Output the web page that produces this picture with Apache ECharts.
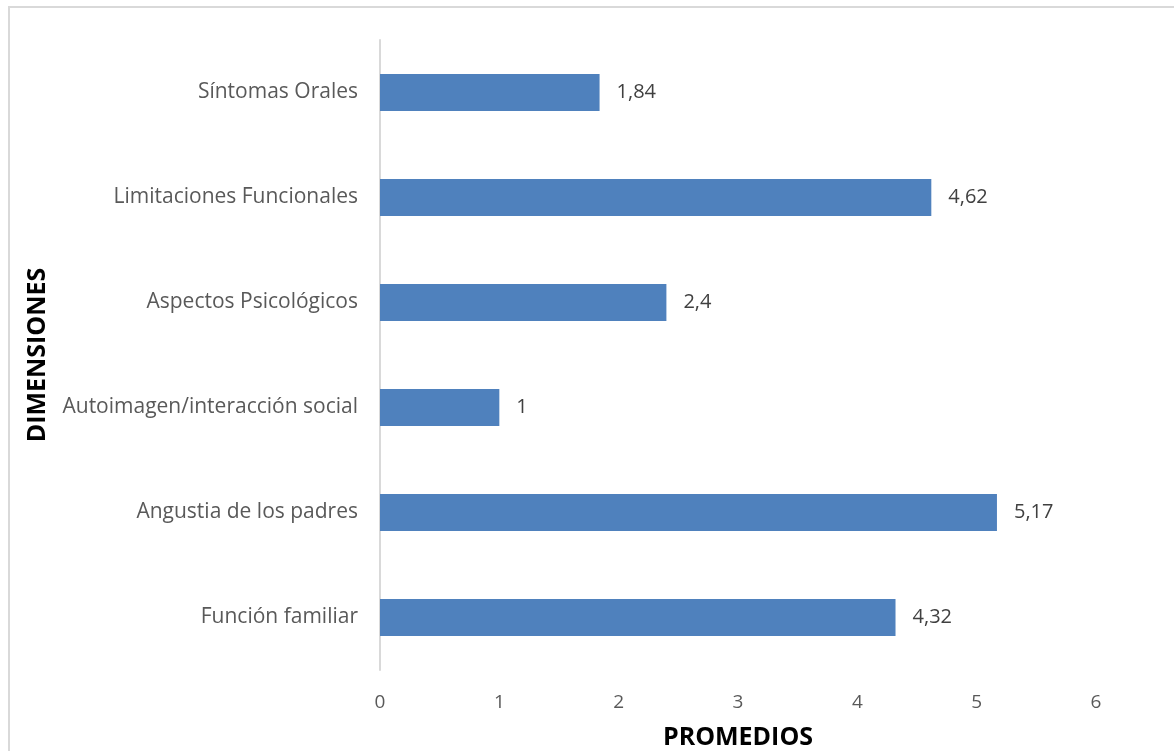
<!DOCTYPE html>
<html>
<head>
<meta charset="utf-8">
<script src="https://cdn.jsdelivr.net/npm/echarts@6/dist/echarts.min.js"></script>
<style>
  html, body { margin: 0; padding: 0; background: #ffffff; }
  #chart { width: 1174px; height: 751px; }
</style>
</head>
<body>
<div id="chart"></div>
<script>
// Dimensions of the questionnaire, listed top to bottom
const dimensiones = [
  'Síntomas Orales',
  'Limitaciones Funcionales',
  'Aspectos Psicológicos',
  'Autoimagen/interacción social',
  'Angustia de los padres',
  'Función familiar'
];
// Mean score per dimension
const promedios = [1.84, 4.62, 2.4, 1, 5.17, 4.32];
// Value axis ticks
const ejeMin = 0;
const ejeMax = 6;
const ejePaso = 1;

const FONT = 'Open Sans';
const chart = echarts.init(document.getElementById('chart'), null, { renderer: 'canvas' });

chart.setOption({
  animation: false,
  backgroundColor: '#ffffff',
  textStyle: { fontFamily: FONT },
  graphic: [{
    type: 'rect',
    shape: { x: 9, y: 7, width: 1300, height: 900 },
    style: { fill: 'none', stroke: '#d9d9d9', lineWidth: 2 },
    silent: true,
    z: -10
  }],
  grid: { left: 380, right: 78, top: 40, bottom: 81, containLabel: false, outerBoundsMode: 'none' },
  xAxis: {
    type: 'value',
    min: ejeMin,
    max: ejeMax,
    interval: ejePaso,
    axisLine: { show: false },
    axisTick: { show: false },
    splitLine: { show: false },
    axisLabel: { color: '#595959', fontSize: 19, margin: 23, fontFamily: FONT,
      formatter: v => String(v) },
    name: 'PROMEDIOS',
    nameLocation: 'middle',
    nameGap: 55,
    nameTextStyle: { color: '#000000', fontSize: 25, fontWeight: 'bold', fontFamily: FONT }
  },
  yAxis: {
    type: 'category',
    data: dimensiones,
    inverse: true,
    axisLine: { show: true, lineStyle: { color: '#d9d9d9', width: 2 } },
    axisTick: { show: false },
    axisLabel: { color: '#595959', fontSize: 21, margin: 22, fontFamily: FONT },
    name: 'DIMENSIONES',
    nameLocation: 'middle',
    nameGap: 330,
    nameRotate: 90,
    nameTextStyle: { color: '#000000', fontSize: 25, fontWeight: 'bold', fontFamily: FONT }
  },
  series: [{
    type: 'bar',
    data: promedios,
    barWidth: 37,
    itemStyle: { color: '#4f81bd' },
    label: {
      show: true,
      position: 'right',
      distance: 17,
      color: '#404040',
      fontSize: 20,
      fontFamily: FONT,
      formatter: p => String(p.value).replace('.', ',')
    }
  }]
});
</script>
</body>
</html>
